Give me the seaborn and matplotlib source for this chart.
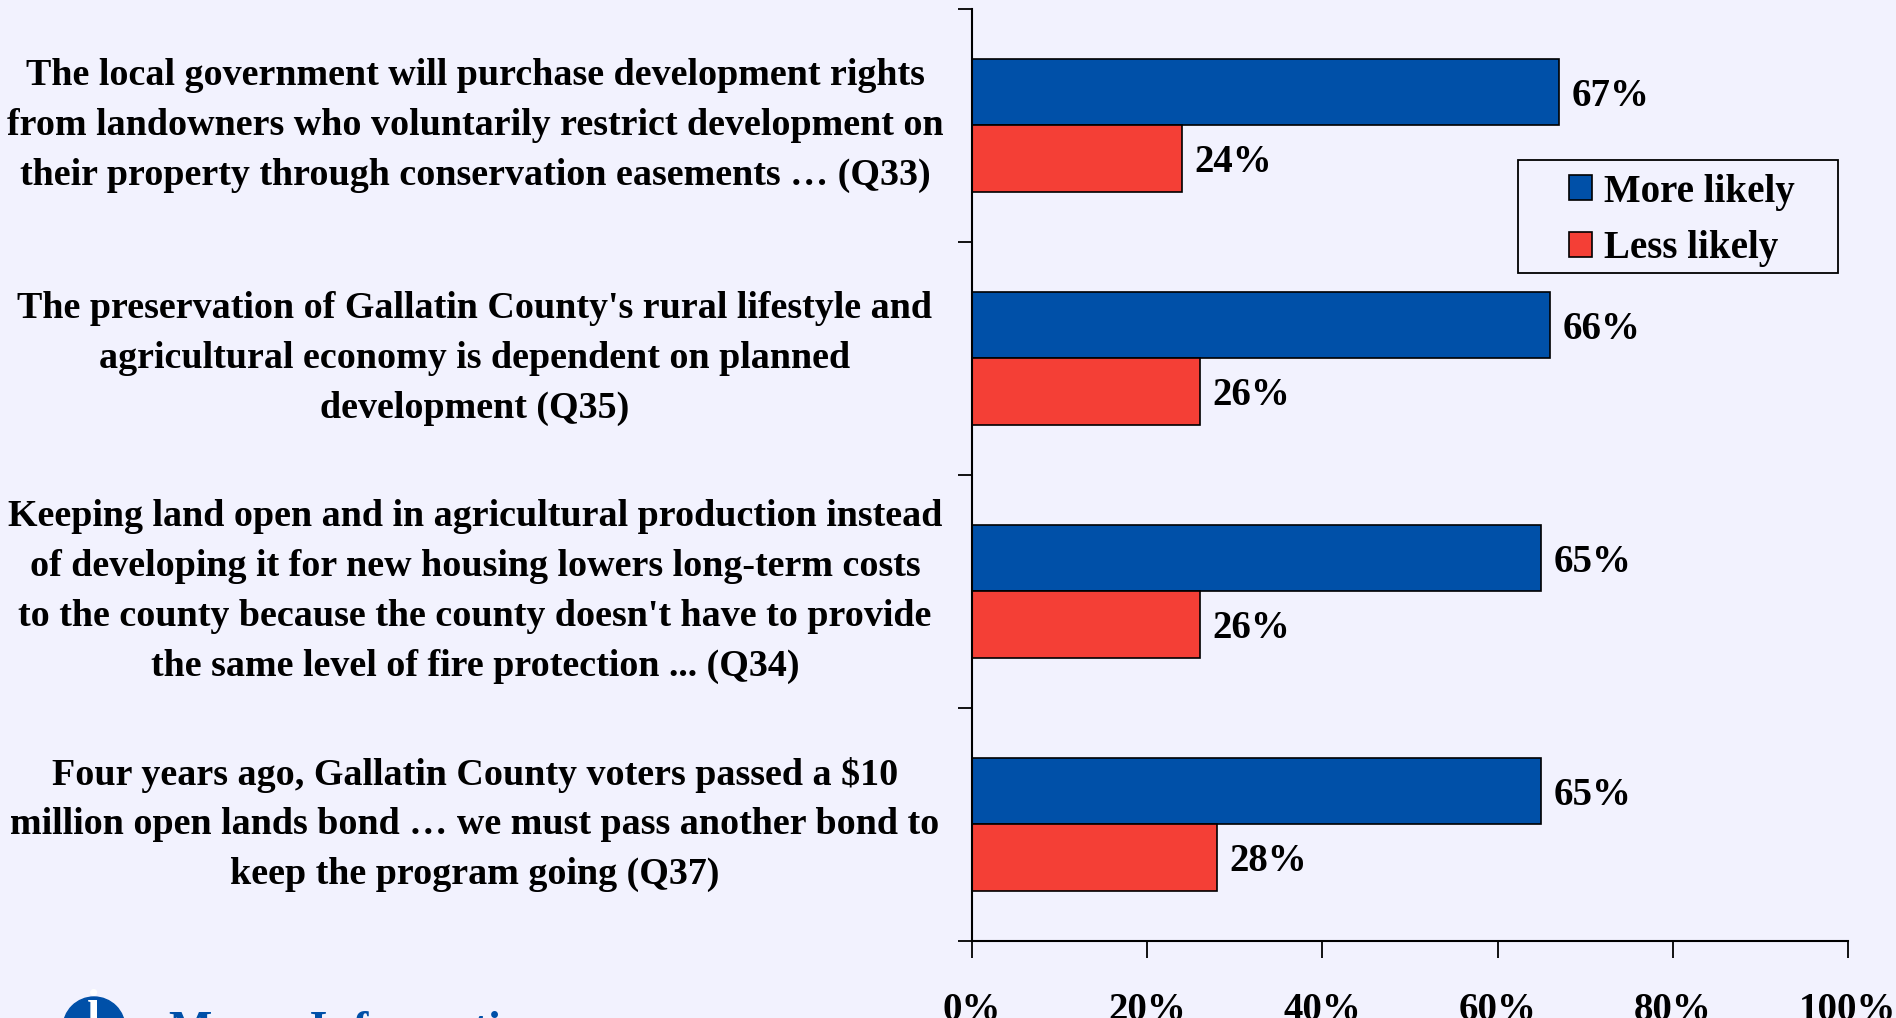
import pandas as pd
import matplotlib
matplotlib.use("Agg")
import matplotlib.pyplot as plt
import matplotlib.transforms as mtransforms
from matplotlib.patches import Circle, Rectangle
import seaborn as sns

# dati
statements = [
    "The local government will purchase development rights\nfrom landowners who voluntarily restrict development on\ntheir property through conservation easements \u2026 (Q33)",
    "The preservation of Gallatin County's rural lifestyle and\nagricultural economy is dependent on planned\ndevelopment (Q35)",
    "Keeping land open and in agricultural production instead\nof developing it for new housing lowers long-term costs\nto the county because the county doesn't have to provide\nthe same level of fire protection ... (Q34)",
    "Four years ago, Gallatin County voters passed a $10\nmillion open lands bond \u2026 we must pass another bond to\nkeep the program going (Q37)",
]
more_likely = [67, 66, 65, 65]
less_likely = [24, 26, 26, 28]
series = ["More likely", "Less likely"]
x_ticks = [0, 20, 40, 60, 80, 100]

BG = "#F2F2FE"
BLUE = "#0050A8"
RED = "#F43F36"

sns.set_theme(style="ticks")
plt.rcParams["font.family"] = ["Liberation Serif", "DejaVu Serif"]
plt.rcParams["font.weight"] = "bold"
plt.rcParams["text.color"] = "black"
plt.rcParams["xtick.color"] = "black"
plt.rcParams["ytick.color"] = "black"

df = pd.DataFrame({
    "item": list(range(len(statements))) * 2,
    "pct": more_likely + less_likely,
    "serie": [series[0]] * len(more_likely) + [series[1]] * len(less_likely),
})

fig = plt.figure(figsize=(18.96, 10.18), dpi=100, facecolor=BG)
ax = fig.add_axes([0.5127, 0.0756, 0.462, 0.916])
ax.set_facecolor(BG)

sns.barplot(data=df, y="item", x="pct", hue="serie", orient="h",
            palette=[BLUE, RED], saturation=1, width=0.57,
            edgecolor="black", linewidth=1.2, ax=ax, legend=True)

ax.set_xlim(0, 100)
ax.set_ylim(len(statements) - 0.5, -0.5)
ax.set_xticks(x_ticks)
ax.set_xticklabels([f"{t}%" for t in x_ticks], fontsize=28, fontweight="bold")
ax.set_yticks([i - 0.5 for i in range(len(statements) + 1)])
ax.set_yticklabels([])
ax.set_xlabel("")
ax.set_ylabel("")
ax.tick_params(axis="x", length=12, width=1.3, color="black", pad=25, direction="out")
ax.tick_params(axis="y", length=10, width=1.3, color="black", direction="out")
for side in ["top", "right"]:
    ax.spines[side].set_visible(False)
for side in ["left", "bottom"]:
    ax.spines[side].set_color("black")
    ax.spines[side].set_linewidth(1.5)

# etichette dei valori (leggermente sotto il centro della barra)
for cont in ax.containers:
    anns = ax.bar_label(cont, labels=[f"{int(round(v))}%" for v in cont.datavalues],
                        padding=9, fontsize=28, fontweight="bold")
    for a in anns:
        a.xyann = (9, -3)

# testi delle domande a sinistra
trans = mtransforms.blended_transform_factory(fig.transFigure, ax.transData)
for i, s in enumerate(statements):
    ax.text(0.2505, i, s, transform=trans, ha="center", va="center",
            fontsize=27.4, fontweight="bold", linespacing=1.55)

# legenda senza cornice + riquadro disegnato a parte (più margine ai lati)
leg = ax.legend(loc="center left", bbox_to_anchor=(0.681, 0.773), frameon=False,
                fontsize=28, handlelength=0.6, handleheight=0.6,
                handletextpad=0.3, borderpad=0, labelspacing=0.5,
                borderaxespad=0)
ax.add_patch(Rectangle((0.6234, 0.716), 0.989 - 0.6234, 0.838 - 0.716,
                       transform=ax.transAxes, facecolor="none",
                       edgecolor="black", linewidth=1.3, zorder=5))

# logo in basso a sinistra (tagliato dal bordo)
fig.patches.append(Circle((94, -10), 31, transform=None, color=BLUE,
                          figure=fig))
fig.text(94 / 1896, 8 / 1018, "i", color="white", fontsize=34,
         fontweight="bold", va="center", ha="center")
fig.text(169 / 1896, 7 / 1018, "Moore Information", color=BLUE, fontsize=33,
         fontweight="bold", va="top", ha="left")

fig.savefig("out.png", dpi=100, facecolor=BG)
